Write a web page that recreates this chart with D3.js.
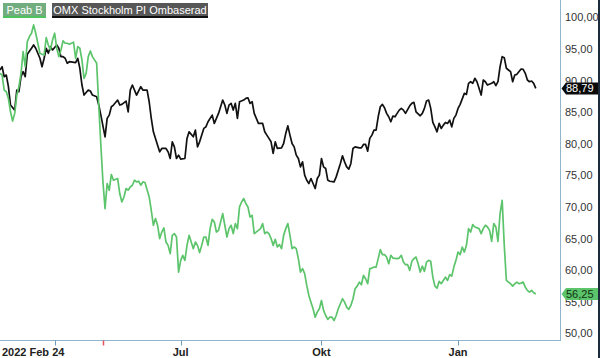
<!DOCTYPE html>
<html><head><meta charset="utf-8">
<script src="https://cdn.jsdelivr.net/npm/d3@7"></script>
<style>html,body{margin:0;padding:0;background:#fff;}svg{display:block;font-family:"Liberation Sans",Arial,sans-serif;}</style>
</head><body><svg id="chart" width="600" height="358"></svg>
<script>
// Series: [trading session since 2022-02-24, value]
const peabSeries = [[0,91.18],[1,90.91],[2,88.53],[3,88.27],[4,87.22],[5,85.09],[6,83.62],[7,84.84],[8,87.74],[9,89.06],[10,91.18],[11,94.61],[12,92.23],[13,96.19],[14,96.99],[15,97.53],[16,98.84],[17,97.53],[18,95.94],[19,94.35],[20,94.20],[21,94.08],[22,96.83],[23,95.67],[24,94.88],[25,96.46],[26,97.53],[27,95.15],[28,93.82],[29,94.88],[30,96.31],[31,95.94],[32,95.94],[33,95.78],[35,96.10],[36,93.56],[37,95.40],[38,95.15],[39,93.29],[40,90.39],[41,91.18],[42,93.82],[43,94.72],[44,93.82],[46,92.77],[47,86.16],[48,79.81],[49,73.99],[50,69.77],[51,73.74],[52,72.68],[53,75.17],[54,74.26],[56,74.53],[57,72.15],[58,70.82],[59,71.61],[60,72.95],[61,72.68],[62,73.20],[63,73.47],[64,74.26],[65,73.99],[66,74.10],[67,73.47],[68,73.99],[69,73.90],[71,71.61],[72,69.50],[73,67.13],[74,68.19],[75,67.13],[76,65.02],[77,66.06],[78,66.70],[79,64.48],[80,63.95],[81,62.64],[82,65.54],[83,65.81],[84,65.27],[85,59.72],[86,61.58],[87,62.37],[88,61.58],[89,63.95],[90,65.54],[92,63.43],[93,64.48],[94,63.95],[95,62.80],[96,63.95],[97,65.27],[98,65.27],[99,63.95],[100,66.60],[101,68.08],[102,67.65],[103,66.06],[104,66.33],[106,68.98],[107,67.13],[108,65.27],[109,66.60],[110,67.13],[111,65.81],[112,67.40],[113,66.60],[114,70.03],[115,70.82],[116,71.36],[117,70.57],[118,70.03],[119,68.44],[120,68.71],[121,65.81],[123,66.33],[124,66.60],[125,67.40],[126,65.81],[127,66.06],[128,65.81],[129,65.02],[130,63.95],[131,64.91],[132,63.69],[133,64.07],[134,63.43],[135,65.54],[136,66.60],[137,67.40],[138,65.54],[139,63.43],[140,63.69],[141,63.43],[142,61.85],[143,59.72],[144,60.26],[145,59.47],[146,57.61],[147,56.03],[148,54.96],[149,53.92],[150,52.58],[151,53.38],[152,53.92],[153,55.23],[154,53.65],[155,52.85],[156,52.22],[157,52.58],[158,52.58],[159,52.06],[160,52.85],[161,53.92],[162,54.71],[163,55.50],[164,54.96],[165,54.17],[166,53.81],[167,54.44],[168,55.50],[169,57.09],[170,57.50],[171,58.13],[172,57.72],[173,59.20],[174,58.67],[175,57.88],[176,60.26],[177,60.35],[178,60.51],[179,60.51],[180,61.85],[181,63.27],[182,62.48],[183,62.48],[184,62.10],[185,61.05],[186,62.37],[187,61.94],[189,61.85],[190,61.94],[191,62.37],[192,61.31],[193,60.89],[194,60.89],[195,59.99],[196,61.42],[197,61.85],[198,62.10],[199,61.05],[200,59.72],[201,60.67],[202,59.83],[203,61.31],[204,61.58],[205,61.42],[206,58.93],[207,57.50],[208,57.18],[209,58.25],[210,57.88],[211,58.40],[212,58.93],[213,58.40],[214,59.31],[215,59.09],[216,60.51],[217,61.58],[218,62.89],[219,62.48],[220,63.69],[221,62.89],[222,63.95],[223,66.60],[224,66.06],[225,67.24],[226,66.86],[228,66.60],[229,65.81],[230,66.60],[231,67.13],[232,66.86],[233,66.33],[234,64.59],[235,67.40],[236,66.86],[237,64.59],[238,68.98],[239,71.09],[240,63.95],[241,58.40],[242,58.13],[243,57.88],[244,57.50],[245,57.88],[246,58.13],[247,57.88],[248,57.98],[249,58.13],[250,57.34],[251,56.82],[252,56.55],[253,56.82],[254,56.45],[255,56.25]];

const omxSeries = [[0,91.71],[1,92.23],[2,90.64],[3,90.91],[4,89.06],[5,86.16],[7,85.36],[8,88.53],[9,88.27],[10,90.64],[11,91.44],[12,90.64],[13,94.20],[15,95.15],[16,95.67],[17,95.15],[19,93.56],[20,92.23],[21,93.56],[22,95.15],[23,94.35],[24,95.40],[25,94.88],[27,95.67],[28,95.15],[29,93.82],[30,93.82],[31,93.56],[32,92.77],[33,93.02],[36,92.86],[37,93.56],[38,91.98],[39,89.33],[40,87.74],[42,88.53],[43,88.38],[44,87.74],[46,87.47],[47,86.16],[48,84.57],[50,81.13],[51,84.05],[52,84.57],[53,85.89],[54,86.16],[56,86.95],[57,86.16],[58,86.27],[60,86.79],[61,85.09],[62,88.53],[63,89.33],[65,87.74],[67,89.06],[68,88.53],[70,88.53],[71,86.68],[72,84.05],[73,81.92],[74,80.88],[75,79.81],[76,78.75],[77,79.29],[79,79.29],[80,78.75],[81,77.70],[82,80.34],[83,79.54],[84,77.70],[85,78.23],[86,77.59],[88,77.70],[89,80.88],[90,81.92],[92,81.13],[93,82.19],[94,79.54],[95,80.34],[97,82.46],[98,82.71],[99,83.51],[101,84.57],[102,83.25],[104,84.84],[106,86.95],[107,86.16],[108,84.84],[109,86.16],[110,86.43],[111,85.36],[112,86.43],[113,84.05],[114,86.68],[116,86.95],[117,87.22],[118,87.31],[119,86.43],[120,86.68],[121,84.84],[123,83.25],[125,83.25],[126,81.92],[127,81.40],[128,80.88],[129,80.34],[130,78.50],[131,80.34],[132,79.29],[134,79.38],[135,80.08],[136,81.67],[137,82.87],[138,81.40],[139,80.08],[140,79.54],[141,78.23],[142,77.70],[143,76.37],[144,77.16],[145,75.06],[146,74.26],[147,73.74],[148,74.53],[149,73.74],[150,72.95],[151,74.53],[152,75.06],[153,77.70],[154,76.37],[155,76.12],[156,74.26],[157,74.10],[159,73.99],[160,74.79],[161,75.85],[162,76.91],[163,78.12],[164,77.16],[165,76.37],[166,76.01],[167,76.91],[168,79.29],[169,79.54],[171,79.38],[172,79.38],[173,79.92],[174,79.92],[175,78.86],[176,80.88],[177,81.40],[178,82.19],[179,82.19],[180,84.30],[181,85.89],[182,86.27],[183,85.73],[184,84.84],[185,84.30],[186,83.51],[187,84.41],[188,84.30],[189,84.84],[190,85.36],[191,85.63],[192,85.36],[193,84.84],[195,86.04],[196,86.43],[197,86.58],[198,85.09],[200,84.46],[201,84.84],[202,85.63],[203,86.79],[204,86.95],[205,85.63],[206,83.41],[207,82.71],[208,81.92],[209,83.25],[210,82.46],[211,82.98],[212,83.41],[213,83.25],[214,83.78],[215,82.71],[216,84.05],[217,84.57],[218,85.63],[219,86.27],[221,88.01],[222,87.85],[223,89.60],[224,89.85],[225,89.60],[226,90.39],[227,89.85],[228,88.80],[229,87.74],[230,90.12],[231,89.85],[232,89.33],[234,89.60],[235,89.85],[236,89.22],[237,89.85],[238,92.23],[239,93.82],[240,93.66],[241,91.98],[242,91.71],[243,91.44],[244,89.85],[245,90.91],[246,91.02],[248,91.86],[249,91.81],[250,91.18],[251,90.12],[252,89.85],[253,89.96],[254,89.60],[255,88.79]];

const seriesNames = ["Peab B", "OMX Stockholm PI Ombaserad"];
const lastValues = [56.25, 88.79];
const yTicks = [50, 55, 60, 65, 70, 75, 80, 85, 90, 95, 100];
const xTickSessions = [26, 86, 153, 218];
const xTickLabels = ["", "Jul", "Okt", "Jan"];
const startLabel = "2022 Feb 24";
const eventSessions = [49];

const svg = d3.select("#chart");
const W = 600, H = 358;
const plotRight = 560.5, plotBottom = 340.5;

const x = d3.scaleLinear().domain([0, 267]).range([0, 561]);
const y = d3.scaleLinear().domain([50, 100]).range([333.5, 17.6]);
const fmt = v => d3.format(".2f")(v).replace(".", ",");

svg.append("rect").attr("width", W).attr("height", H).attr("fill", "#fff");

// frame
svg.append("line").attr("x1", 0).attr("x2", plotRight + 0.5).attr("y1", plotBottom).attr("y2", plotBottom)
  .attr("stroke", "#8fb4cb").attr("stroke-width", 1);
svg.append("line").attr("x1", plotRight).attr("x2", plotRight).attr("y1", 0).attr("y2", plotBottom)
  .attr("stroke", "#8fb4cb").attr("stroke-width", 1);
// right dark edge
svg.append("rect").attr("x", 598).attr("y", 0).attr("width", 2).attr("height", H).attr("fill", "#1d2c3c");

// x ticks
const xt = svg.append("g");
xt.selectAll("line.tk").data(xTickSessions).join("line").attr("class", "tk")
  .attr("x1", d => Math.round(x(d)) + 0.5).attr("x2", d => Math.round(x(d)) + 0.5)
  .attr("y1", plotBottom).attr("y2", plotBottom + 5).attr("stroke", "#6f9cb8").attr("stroke-width", 1);
xt.selectAll("line.ev").data(eventSessions).join("line").attr("class", "ev")
  .attr("x1", d => Math.round(x(d)) + 0.5).attr("x2", d => Math.round(x(d)) + 0.5)
  .attr("y1", plotBottom).attr("y2", plotBottom + 5).attr("stroke", "#e8525a").attr("stroke-width", 1.5);
xt.selectAll("text.lb").data(xTickSessions.map((s, i) => ({s, t: xTickLabels[i]})).filter(d => d.t))
  .join("text").attr("class", "lb")
  .attr("x", d => x(d.s)).attr("y", 355.5).attr("text-anchor", "middle")
  .attr("font-size", 11).attr("font-weight", "bold").attr("fill", "#222").text(d => d.t);
xt.append("text").attr("x", 2).attr("y", 355.5).attr("font-size", 11).attr("font-weight", "bold")
  .attr("fill", "#222").text(startLabel);

// y labels
svg.append("g").selectAll("text").data(yTicks).join("text")
  .attr("x", 565).attr("y", d => y(d)).attr("dy", "0.35em")
  .attr("font-size", 11).attr("fill", "#333").text(d => fmt(d));

// lines
const line = d3.line().x(d => x(d[0])).y(d => y(d[1]));
const clip = svg.append("clipPath").attr("id", "clp").append("rect")
  .attr("x", 0).attr("y", 0).attr("width", plotRight).attr("height", plotBottom);
const lines = svg.append("g").attr("clip-path", "url(#clp)");
lines.append("path").datum(omxSeries).attr("d", line).attr("fill", "none")
  .attr("stroke", "#111").attr("stroke-width", 1.7).attr("stroke-linejoin", "round");
lines.append("path").datum(peabSeries).attr("d", line).attr("fill", "none")
  .attr("stroke", "#5cc46b").attr("stroke-width", 1.7).attr("stroke-linejoin", "round");

// price tags
const tagColors = [{bg: "#5cc46b", fg: "#113311"}, {bg: "#0a0a0a", fg: "#ffffff"}];
lastValues.forEach((v, i) => {
  const cy = y(v);
  const g = svg.append("g");
  g.append("path").attr("d", `M${plotRight + 1},${cy} L${566},${cy - 6} L598,${cy - 6} L598,${cy + 6} L566,${cy + 6} Z`)
    .attr("fill", tagColors[i].bg);
  g.append("text").attr("x", 566).attr("y", cy).attr("dy", "0.35em").attr("font-size", 11)
    .attr("fill", tagColors[i].fg).text(fmt(v));
});

// legend
const legend = [
  {name: seriesNames[0], x: 3, w: 43, bg: "#72ad80", line: "#4fc15f"},
  {name: seriesNames[1], x: 52, w: 156, bg: "#575757", line: "#111"}
];
legend.forEach(l => {
  svg.append("rect").attr("x", l.x).attr("y", 3).attr("width", l.w).attr("height", 14).attr("fill", l.bg);
  svg.append("rect").attr("x", l.x).attr("y", 16).attr("width", l.w).attr("height", 2).attr("fill", l.line);
  svg.append("text").attr("x", l.x + l.w / 2).attr("y", 10).attr("dy", "0.35em").attr("text-anchor", "middle")
    .attr("font-size", 11).attr("fill", "#fff").text(l.name);
});
</script></body></html>
